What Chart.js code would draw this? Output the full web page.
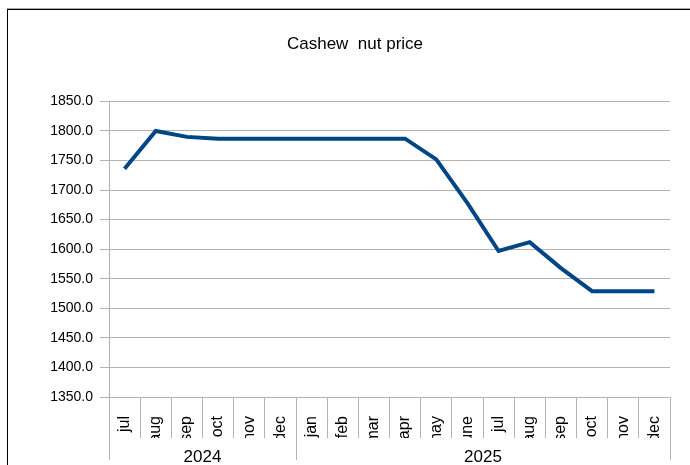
<!DOCTYPE html>
<html>
<head>
<meta charset="utf-8">
<script src="https://cdn.jsdelivr.net/npm/chart.js@4/dist/chart.umd.min.js"></script>
<style>
    html, body { margin: 0; padding: 0; background: #fff; overflow: hidden; }
    #wrap { position: relative; width: 690px; height: 465px; }
    #frame {
        position: absolute; left: 7px; top: 9px; width: 720px; height: 480px;
        border-left: 1px solid #000; border-top: 1px solid #000;
        box-shadow: 0 -1px 0 #aaa;
    }
    canvas { position: absolute; left: 0; top: 0; }
</style>
</head>
<body>
<div id="wrap">
    <div id="frame"></div>
    <canvas id="chart" width="690" height="465"></canvas>
</div>
<script>
// Cashew nut price, monthly, jul 2024 - dec 2025
const months = ['jul', 'aug', 'sep', 'oct', 'nov', 'dec',
    'jan', 'feb', 'mar', 'apr', 'may', 'june', 'jul', 'aug', 'sep', 'oct', 'nov', 'dec'];
const prices = [1736, 1800, 1790, 1787, 1787, 1787,
    1787, 1787, 1787, 1787, 1752, 1678, 1597, 1612, 1568, 1529, 1529, 1529];
const years = ['2024', '2025'];
const yearSpans = [6, 12];   // months in each year group
const yTicks = { min: 1350, max: 1850, step: 50 };

const gridColor = '#b3b3b3';
const font = 'Liberation Sans, Arial, sans-serif';

// year group boundaries and centres, in category index units
const boundaries = [-0.5];
const centres = [];
yearSpans.forEach(n => {
    const start = boundaries[boundaries.length - 1];
    centres.push(start + n / 2);
    boundaries.push(start + n);
});

new Chart(document.getElementById('chart').getContext('2d'), {
    type: 'line',
    data: {
        labels: months,
        datasets: [{
            label: 'Cashew nut price',
            data: prices,
            borderColor: '#004586',
            borderWidth: 4,
            borderJoinStyle: 'miter',
            tension: 0,
            pointRadius: 0,
            fill: false
        }]
    },
    options: {
        responsive: false,
        animation: false,
        layout: { padding: { left: 40, right: 20, top: 0, bottom: 0 } },
        plugins: {
            legend: { display: false },
            tooltip: { enabled: false },
            title: {
                display: true,
                text: 'Cashew  nut price',
                color: '#000',
                font: { family: font, size: 17, weight: 'normal' },
                padding: { top: 34, bottom: 47 }
            }
        },
        scales: {
            x: {
                type: 'category',
                offset: true,
                grid: {
                    offset: true,
                    drawOnChartArea: true,
                    color: ctx => ctx.index === months.length ? gridColor : 'transparent',
                    tickColor: gridColor,
                    tickLength: 41
                },
                border: { color: gridColor },
                ticks: {
                    color: '#000',
                    font: { family: font, size: 16 },
                    minRotation: 90,
                    maxRotation: 90,
                    autoSkip: false,
                    padding: -22
                },
                afterFit: s => { s.height = 41; }
            },
            x2: {
                type: 'linear',
                position: 'bottom',
                min: boundaries[0],
                max: boundaries[boundaries.length - 1],
                afterBuildTicks: s => {
                    s.ticks = boundaries.concat(centres)
                        .sort((a, b) => a - b)
                        .map(v => ({ value: v }));
                },
                grid: {
                    drawOnChartArea: false,
                    color: ctx => (ctx.tick && boundaries.includes(ctx.tick.value)) ? gridColor : 'transparent',
                    tickLength: 22
                },
                border: { display: false },
                ticks: {
                    color: '#000',
                    font: { family: font, size: 17 },
                    maxRotation: 0,
                    autoSkip: false,
                    padding: -13,
                    callback: v => {
                        const i = centres.indexOf(v);
                        return i >= 0 ? years[i] : '';
                    }
                },
                afterFit: s => { s.height = 27; }
            },
            y: {
                min: yTicks.min,
                max: yTicks.max,
                grid: { color: gridColor, tickLength: 9 },
                border: { color: gridColor },
                ticks: {
                    stepSize: yTicks.step,
                    color: '#000',
                    font: { family: font, size: 14 },
                    padding: 7,
                    callback: v => v.toFixed(1)
                },
                afterFit: s => { s.width = 69; }
            }
        }
    }
});
</script>
</body>
</html>
